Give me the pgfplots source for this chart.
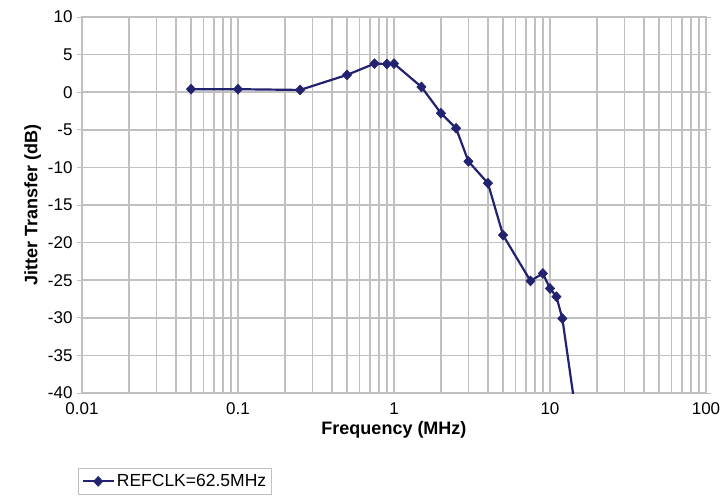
\documentclass[border=0pt]{standalone}
\usepackage{pgfplots}
\pgfplotsset{compat=1.18}
\usepackage{fontspec}
\setmainfont{Liberation Sans}
\definecolor{navyline}{RGB}{34,34,112}
\definecolor{gridgray}{RGB}{192,192,192}
\begin{document}
\begin{tikzpicture}
\useasboundingbox (-82bp,-104bp) rectangle (641bp,393bp);
\begin{axis}[
  scale only axis,
  width=624bp, height=376bp,
  xmode=log,
  xmin=0.01, xmax=100,
  ymin=-40, ymax=10,
  ytick={-40,-35,...,10},
  xtick={0.01,0.1,1,10,100},
  xticklabels={0.01,0.1,1,10,100},
  minor xtick={0.02,0.03,0.04,0.05,0.06,0.07,0.08,0.09,
               0.2,0.3,0.4,0.5,0.6,0.7,0.8,0.9,
               2,3,4,5,6,7,8,9,
               20,30,40,50,60,70,80,90},
  log basis x=10,
  grid=both,
  major grid style={draw=gridgray, line width=1.6bp},
  minor grid style={draw=gridgray, line width=1.6bp},
  axis line style={draw=gridgray, line width=1.4bp},
  tick align=outside,
  minor tick length=0pt,
  xtick style={/pgfplots/major tick length=0pt},
  ytick style={draw=gridgray, line width=1bp},
  major tick length=5bp,
  /pgf/number format/assume math mode=true,
  ticklabel style={font=\fontsize{17bp}{19bp}\selectfont, text=black},
  yticklabel style={xshift=-1bp},
  xticklabel style={yshift=-1bp},
  xlabel={\textbf{Frequency (MHz)}},
  ylabel={\textbf{Jitter Transfer (dB)}},
  label style={font=\fontsize{18bp}{20bp}\selectfont},
  clip=true,
  legend style={at={(-0.0064,-0.1995)}, anchor=north west, draw=gridgray, line width=1bp,
    font=\fontsize{17.5bp}{20bp}\selectfont, inner xsep=3bp, inner ysep=4bp, row sep=0bp,
    legend cell align=left},
  legend image code/.code={%
    \draw[#1] (0cm,0cm) -- (1.1cm,0cm);
    \draw[#1, mark repeat=1, mark phase=1] plot coordinates {(0.55cm,0cm)};},
]
\addplot[color=navyline, line width=2.2bp, mark=diamond*, mark size=5bp,
  mark options={fill=navyline, line width=0.5bp, xscale=1.25}] coordinates {
  (0.05,0.4) (0.1,0.4) (0.25,0.3) (0.5,2.3) (0.75,3.8) (0.9,3.75) (1.0,3.8)
  (1.5,0.7) (2.0,-2.8) (2.5,-4.8) (3.0,-9.2) (4.0,-12.1) (5.0,-19.0)
  (7.5,-25.1) (9.0,-24.1) (10.0,-26.1) (11.0,-27.2) (12.0,-30.1) (15.0,-44.2)
};
\addlegendentry{REFCLK=62.5MHz}
\end{axis}
\end{tikzpicture}
\end{document}
